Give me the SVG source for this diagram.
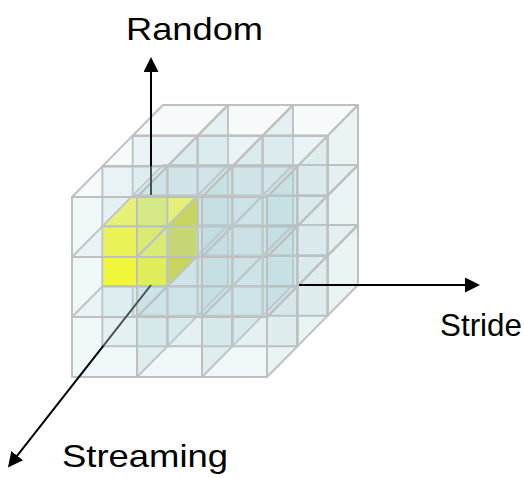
<svg xmlns="http://www.w3.org/2000/svg" xmlns:xlink="http://www.w3.org/1999/xlink" width="524" height="478" viewBox="0 0 524 478">
  <style>
    .f { fill: #b9dade; fill-opacity: 0.21; }
    .t { fill: #c8e4e6; fill-opacity: 0.17; }
    .s { fill: #a0c8cc; fill-opacity: 0.22; }
    .yf { fill: #ffff10; }
    .yt { fill: #f0f85a; }
    .ys { fill: #cbd43c; }
    .edge { stroke: #bfbfbf; stroke-width: 2; stroke-linejoin: round; }
    .axis { stroke: #000; stroke-width: 2; fill: none; }
    .axis-dim { stroke: #435355; stroke-width: 2; fill: none; }
    .label { font-family: "Liberation Sans", Arial, sans-serif; font-size: 32px; fill: #000; }
  </style>
  <defs>
    <!-- one glass cell: front face, top face, right face -->
    <g id="cell" class="edge">
      <rect class="f" x="0" y="0" width="65" height="60"/>
      <polygon class="t" points="0,0 65,0 95.33,-30.67 30.33,-30.67"/>
      <polygon class="s" points="65,0 95.33,-30.67 95.33,29.33 65,60"/>
    </g>
    <!-- highlighted cell -->
    <g id="cell-hi" class="edge">
      <rect class="yf" x="0" y="0" width="65" height="60"/>
      <polygon class="yt" points="0,0 65,0 95.33,-30.67 30.33,-30.67"/>
      <polygon class="ys" points="65,0 95.33,-30.67 95.33,29.33 65,60"/>
    </g>
    <marker id="head" markerUnits="userSpaceOnUse" markerWidth="16" markerHeight="16" refX="13" refY="7.5" orient="auto">
      <path d="M0,0 L15,7.5 L0,15 z" fill="#000"/>
    </marker>
  </defs>

  <!-- 3 x 3 x 3 block, back layer first -->
  <g id="layer-back">
    <g id="c-2-2-0" transform="translate(132.67,255.67)"><use xlink:href="#cell"/></g>
    <g id="c-2-2-1" transform="translate(197.67,255.67)"><use xlink:href="#cell"/></g>
    <g id="c-2-2-2" transform="translate(262.67,255.67)"><use xlink:href="#cell"/></g>
    <g id="c-2-1-0" transform="translate(132.67,195.67)"><use xlink:href="#cell"/></g>
    <g id="c-2-1-1" transform="translate(197.67,195.67)"><use xlink:href="#cell"/></g>
    <g id="c-2-1-2" transform="translate(262.67,195.67)"><use xlink:href="#cell"/></g>
    <g id="c-2-0-0" transform="translate(132.67,135.67)"><use xlink:href="#cell"/></g>
    <g id="c-2-0-1" transform="translate(197.67,135.67)"><use xlink:href="#cell"/></g>
    <g id="c-2-0-2" transform="translate(262.67,135.67)"><use xlink:href="#cell"/></g>
  </g>
  <g id="layer-middle">
    <g id="c-1-2-0" transform="translate(102.33,286.33)"><use xlink:href="#cell"/></g>
    <g id="c-1-2-1" transform="translate(167.33,286.33)"><use xlink:href="#cell"/></g>
    <g id="c-1-2-2" transform="translate(232.33,286.33)"><use xlink:href="#cell"/></g>
    <g id="c-1-1-1" transform="translate(167.33,226.33)"><use xlink:href="#cell"/></g>
    <g id="c-1-1-2" transform="translate(232.33,226.33)"><use xlink:href="#cell"/></g>
    <g id="c-1-0-0" transform="translate(102.33,166.33)"><use xlink:href="#cell"/></g>
    <g id="c-1-0-1" transform="translate(167.33,166.33)"><use xlink:href="#cell"/></g>
    <g id="c-1-0-2" transform="translate(232.33,166.33)"><use xlink:href="#cell"/></g>
    <!-- highlighted cell sits over its layer neighbours -->
    <g id="c-1-1-0" transform="translate(102.33,226.33)"><use xlink:href="#cell-hi"/></g>
  </g>
  <g id="layer-front">
    <g id="c-0-2-0" transform="translate(72,317)"><use xlink:href="#cell"/></g>
    <g id="c-0-2-1" transform="translate(137,317)"><use xlink:href="#cell"/></g>
    <g id="c-0-2-2" transform="translate(202,317)"><use xlink:href="#cell"/></g>
    <g id="c-0-1-0" transform="translate(72,257)"><use xlink:href="#cell"/></g>
    <g id="c-0-1-1" transform="translate(137,257)"><use xlink:href="#cell"/></g>
    <g id="c-0-1-2" transform="translate(202,257)"><use xlink:href="#cell"/></g>
    <g id="c-0-0-0" transform="translate(72,197)"><use xlink:href="#cell"/></g>
    <g id="c-0-0-1" transform="translate(137,197)"><use xlink:href="#cell"/></g>
    <g id="c-0-0-2" transform="translate(202,197)"><use xlink:href="#cell"/></g>
  </g>

  <!-- axes -->
  <g id="axes">
    <line class="axis-dim" x1="151" y1="195" x2="151" y2="166"/>
    <line class="axis" x1="151" y1="166" x2="151" y2="59" marker-end="url(#head)"/>
    <line class="axis" x1="299" y1="285" x2="478" y2="285" marker-end="url(#head)"/>
    <line class="axis-dim" x1="151" y1="285" x2="103.5" y2="345.6"/>
    <line class="axis" x1="103.5" y1="345.6" x2="9.2" y2="465.9" marker-end="url(#head)"/>
  </g>

  <g id="labels">
    <text class="label" x="126" y="39.5" textLength="137" lengthAdjust="spacingAndGlyphs">Random</text>
    <text class="label" x="440" y="336" textLength="82" lengthAdjust="spacingAndGlyphs">Stride</text>
    <text class="label" x="62" y="466.5" textLength="166" lengthAdjust="spacingAndGlyphs">Streaming</text>
  </g>
</svg>
